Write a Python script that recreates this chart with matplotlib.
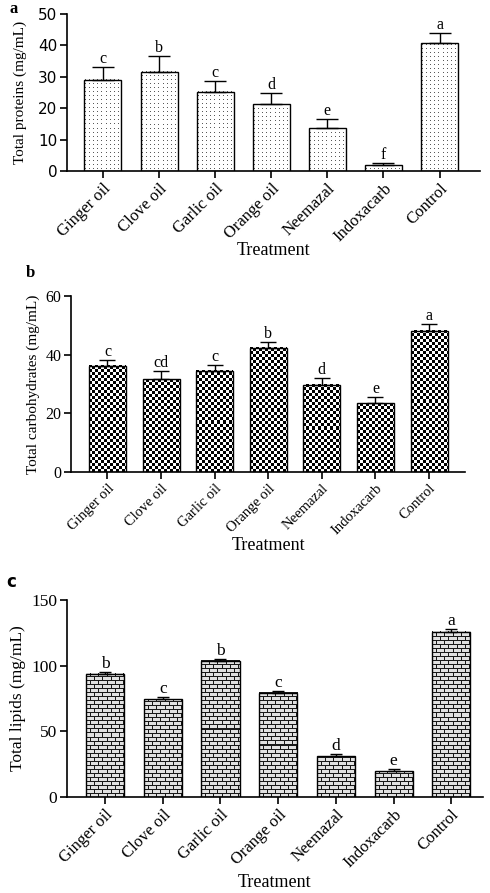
import numpy as np
import matplotlib
matplotlib.use('Agg')
import matplotlib.pyplot as plt

# treatments (same for all three panels)
treatments = ['Ginger oil', 'Clove oil', 'Garlic oil', 'Orange oil', 'Neemazal', 'Indoxacarb', 'Control']

# a - total proteins
proteins = [29.0, 31.6, 25.3, 21.2, 13.6, 1.9, 40.7]
proteins_err = [4.2, 5.0, 3.5, 3.5, 3.0, 0.7, 3.4]
proteins_grp = ['c', 'b', 'c', 'd', 'e', 'f', 'a']

# b - total carbohydrates
carbs = [36.3, 31.7, 34.6, 42.3, 29.7, 23.5, 48.2]
carbs_err = [1.9, 2.6, 1.9, 2.0, 2.3, 2.2, 2.2]
carbs_grp = ['c', 'cd', 'c', 'b', 'd', 'e', 'a']

# c - total lipids
lipids = [93.8, 74.5, 103.6, 79.5, 30.9, 19.5, 126.0]
lipids_err = [1.7, 1.8, 1.8, 1.3, 1.8, 1.8, 2.0]
lipids_grp = ['b', 'c', 'b', 'c', 'd', 'e', 'a']

W, H = 490, 893
SERIF = ['Liberation Serif', 'DejaVu Serif']

fig = plt.figure(figsize=(W / 100, H / 100), dpi=100)


def pattern_tile(kind):
    if kind == 'dots':
        t = np.ones((4, 4))
        t[1, 1] = 0.35
    elif kind == 'checker':
        t = np.ones((6, 6))
        t[:3, :3] = 0.0
        t[3:, 3:] = 0.0
    else:  # bricks
        t = np.full((8, 8), 0.88)
        t[0, :] = 0.1
        t[4, :] = 0.1
        t[1:4, 0] = 0.1
        t[5:8, 4] = 0.1
    return t


def fill_bars(ax, bars, tile, pos, xlim, ylim):
    ppx = pos[2] * W / (xlim[1] - xlim[0])
    ppy = pos[3] * H / (ylim[1] - ylim[0])
    for b in bars:
        x0, w, h = b.get_x(), b.get_width(), b.get_height()
        nx = max(1, int(round(w * ppx)))
        ny = max(1, int(round(h * ppy)))
        reps = (ny // tile.shape[0] + 2, nx // tile.shape[1] + 2)
        arr = np.tile(tile, reps)[-ny:, :nx]
        ax.imshow(arr, cmap='gray', vmin=0, vmax=1, extent=(x0, x0 + w, 0, h),
                  interpolation='nearest', aspect='auto', zorder=2)


def panel(rect, vals, errs, grps, kind, ylim, yticks, ylabel, letter,
          width, xlim, capsize, sizes, ytick_family, letter_xy, letter_family,
          xlabelpad=4):
    l, t, r, b = rect
    pos = [l / W, 1 - b / H, (r - l) / W, (b - t) / H]
    ax = fig.add_axes(pos)
    x = np.arange(len(treatments))
    bars = ax.bar(x, vals, width=width, facecolor='none', edgecolor='black',
                  linewidth=1.0, zorder=3)
    ax.errorbar(x, vals, yerr=[np.zeros(len(vals)), errs], fmt='none',
                ecolor='black', elinewidth=1.0, capsize=capsize, capthick=1.0, zorder=4)
    fill_bars(ax, bars, pattern_tile(kind), pos, xlim, ylim)
    for xi, v, e, g in zip(x, vals, errs, grps):
        ax.text(xi, v + e, g, ha='center', va='bottom', family=SERIF,
                fontsize=sizes['grp'])
    ax.set_xlim(*xlim)
    ax.set_ylim(*ylim)
    ax.set_yticks(yticks)
    ax.set_yticklabels([str(v) for v in yticks], family=ytick_family, fontsize=sizes['ytick'])
    ax.set_xticks(x)
    ax.set_xticklabels(treatments, rotation=45, ha='right', rotation_mode='anchor',
                       family=SERIF, fontsize=sizes['xtick'])
    ax.set_ylabel(ylabel, family=SERIF, fontsize=sizes['ylabel'])
    ax.set_xlabel('Treatment', family=SERIF, fontsize=sizes['xlabel'], labelpad=xlabelpad)
    for s in ['top', 'right']:
        ax.spines[s].set_visible(False)
    for s in ['left', 'bottom']:
        ax.spines[s].set_linewidth(1.2)
    ax.tick_params(axis='both', direction='out', length=5, width=1.2, pad=2)
    fig.text(letter_xy[0] / W, 1 - letter_xy[1] / H, letter, fontweight='bold',
             family=letter_family, fontsize=12, ha='left', va='center')
    return ax


ax1 = panel((67, 14, 480, 171), proteins, proteins_err, proteins_grp, 'dots',
            (0, 50), [0, 10, 20, 30, 40, 50], 'Total proteins (mg/mL)', 'a',
            0.66, (-0.64, 6.72), 8,
            dict(grp=11.5, ytick=11, xtick=12, ylabel=11, xlabel=13),
            'DejaVu Sans', (9, 9), SERIF, xlabelpad=-2)
ax1.yaxis.labelpad = 8

ax2 = panel((71, 296, 465, 472), carbs, carbs_err, carbs_grp, 'checker',
            (0, 60), [0, 20, 40, 60], 'Total carbohydrates (mg/mL)', 'b',
            0.69, (-0.68, 6.67), 6,
            dict(grp=11.5, ytick=11.5, xtick=10.5, ylabel=11, xlabel=13),
            SERIF, (26, 273), SERIF, xlabelpad=0)

ax3 = panel((67, 600, 483, 797), lipids, lipids_err, lipids_grp, 'bricks',
            (0, 150), [0, 50, 100, 150], 'Total lipids (mg/mL)', 'c',
            0.66, (-0.66, 6.55), 4,
            dict(grp=12.5, ytick=12.5, xtick=12, ylabel=12.5, xlabel=13),
            SERIF, (6, 582), 'DejaVu Sans', xlabelpad=2)

fig.savefig('out.png', dpi=100)
